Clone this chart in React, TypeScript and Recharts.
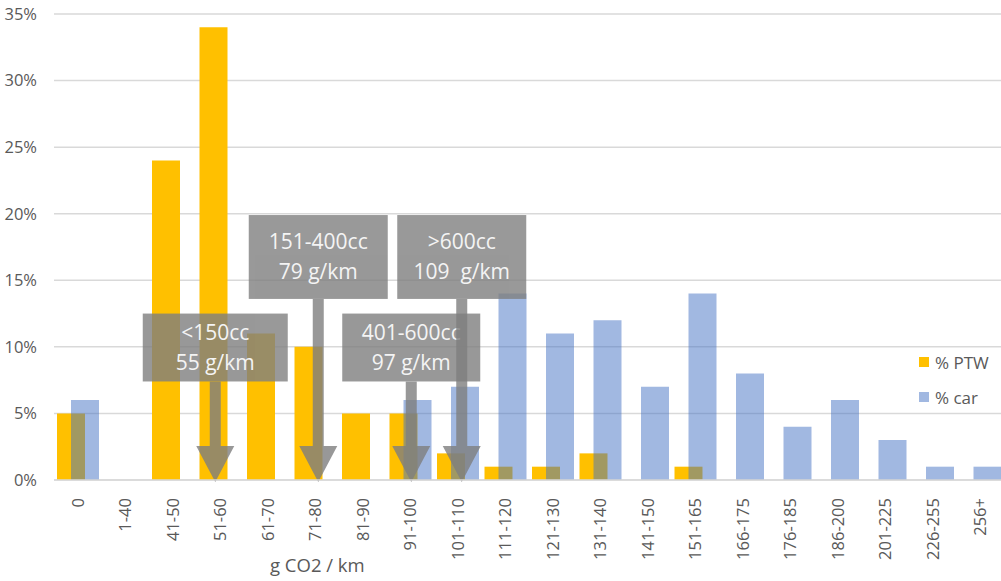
import { Bar, BarChart, CartesianGrid, ReferenceLine, XAxis, YAxis } from "recharts"

const categories = [
  "0", "1-40", "41-50", "51-60", "61-70", "71-80", "81-90", "91-100", "101-110", "111-120",
  "121-130", "131-140", "141-150", "151-165", "166-175", "176-185", "186-200", "201-225", "226-255", "256+",
]
const ptwShare = [5, 0, 24, 34, 11, 10, 5, 5, 2, 1, 1, 2, 0, 1, 0, 0, 0, 0, 0, 0]
const carShare = [6, 0, 0, 0, 0, 0, 0, 6, 7, 14, 11, 12, 7, 14, 8, 4, 6, 3, 1, 1]
const yTicks = [0, 5, 10, 15, 20, 25, 30, 35]

// callouts: engine class, average emission, category the arrow points to, box top/bottom in %
const callouts = [
  { title: "<150cc", value: "55 g/km", at: "51-60", top: 12.5, bottom: 7.4 },
  { title: "151-400cc", value: "79 g/km", at: "71-80", top: 19.9, bottom: 13.6 },
  { title: "401-600cc", value: "97 g/km", at: "91-100", top: 12.5, bottom: 7.4 },
  { title: ">600cc", value: "109  g/km", at: "101-110", top: 19.9, bottom: 13.6 },
]
// box width and small horizontal nudge of the arrow inside its category (px)
const calloutWidths = [145, 139, 138, 129]
const calloutNudge = [-5, 3, 1, 4]

const data = categories.map((c, i) => ({ name: c, ptw: ptwShare[i], car: carShare[i] }))

const FONT = "'Open Sans', 'Noto Sans', sans-serif"
const TEXT = "#595959"

function RotatedTick({ x, y, payload }: { x?: number; y?: number; payload?: { value: string } }) {
  return (
    <g transform={`translate(${x},${y})`}>
      <text
        x={0}
        y={0}
        dy="0.35em"
        textAnchor="end"
        transform="rotate(-90)"
        fill={TEXT}
        fontSize={16.5}
        fontFamily={FONT}
      >
        {payload?.value}
      </text>
    </g>
  )
}

function calloutShape(idx: number) {
  const c = callouts[idx]
  const w = calloutWidths[idx]
  return (props: any) => {
    const { x1, y1, y2 } = props
    if (x1 == null || y1 == null || y2 == null) return <g />
    const x = x1 + calloutNudge[idx]
    const yTop = y1
    const yZero = y2
    const yBottom = yZero - ((yZero - yTop) * c.bottom) / c.top
    const headTop = yZero - 34
    const mid = (yTop + yBottom) / 2
    return (
      <g>
        <g opacity={0.8}>
          <rect x={x - w / 2} y={yTop} width={w} height={yBottom - yTop} fill="#7f7f7f" />
          <path
            d={`M${x - 5.5},${yBottom} L${x + 5.5},${yBottom} L${x + 5.5},${headTop} L${x + 19},${headTop} L${x},${yZero + 2} L${x - 19},${headTop} L${x - 5.5},${headTop} Z`}
            fill="#7f7f7f"
          />
        </g>
        <text textAnchor="middle" fill="#f4f4f4" fontSize={21} fontFamily={FONT}>
          <tspan x={x} y={mid - 15} dy="0.35em">{c.title}</tspan>
          <tspan x={x} y={mid + 15} dy="0.35em" style={{ whiteSpace: "pre" }}>{c.value}</tspan>
        </text>
      </g>
    )
  }
}

export default function App() {
  return (
    <div style={{ position: "relative", width: 1001, height: 581, overflow: "hidden", background: "#fff" }}>
      <style>{"body{margin:0}"}</style>
      <BarChart
        width={1004}
        height={581}
        data={data}
        margin={{ top: 14, right: 0, bottom: 0, left: 0 }}
        barSize={28}
        barGap={-14}
      >
        <CartesianGrid vertical={false} stroke="#d9d9d9" strokeWidth={1.5} />
        <XAxis
          dataKey="name"
          interval={0}
          height={101}
          tick={<RotatedTick />}
          tickLine={false}
          axisLine={{ stroke: "#d9d9d9", strokeWidth: 1.5 }}
          tickMargin={12}
        />
        <YAxis
          domain={[0, 35]}
          ticks={yTicks}
          width={54}
          tickFormatter={(v: number) => `${v}%`}
          tick={{ fill: TEXT, fontSize: 16.5, fontFamily: FONT }}
          tickLine={false}
          axisLine={false}
          tickMargin={11}
        />
        <Bar dataKey="ptw" fill="#FFC000" isAnimationActive={false} />
        <Bar dataKey="car" fill="#4472C4" fillOpacity={0.5} isAnimationActive={false} />
        {callouts.map((c, i) => (
          <ReferenceLine
            key={c.title}
            segment={[
              { x: c.at, y: c.top },
              { x: c.at, y: 0 },
            ]}
            shape={calloutShape(i)}
          />
        ))}
      </BarChart>
      <div
        style={{
          position: "absolute",
          left: 270,
          top: 552,
          fontFamily: FONT,
          fontSize: 18.5,
          color: TEXT,
          whiteSpace: "nowrap",
        }}
      >
        g CO2 / km
      </div>
      <div style={{ position: "absolute", left: 919, top: 351, fontFamily: FONT, fontSize: 17, color: TEXT }}>
        <div style={{ display: "flex", alignItems: "center", height: 22 }}>
          <span style={{ width: 10, height: 10, background: "#FFC000", marginRight: 6 }} />% PTW
        </div>
        <div style={{ display: "flex", alignItems: "center", height: 22, marginTop: 13 }}>
          <span style={{ width: 10, height: 10, background: "#4472C4", opacity: 0.5, marginRight: 6 }} />% car
        </div>
      </div>
    </div>
  )
}
